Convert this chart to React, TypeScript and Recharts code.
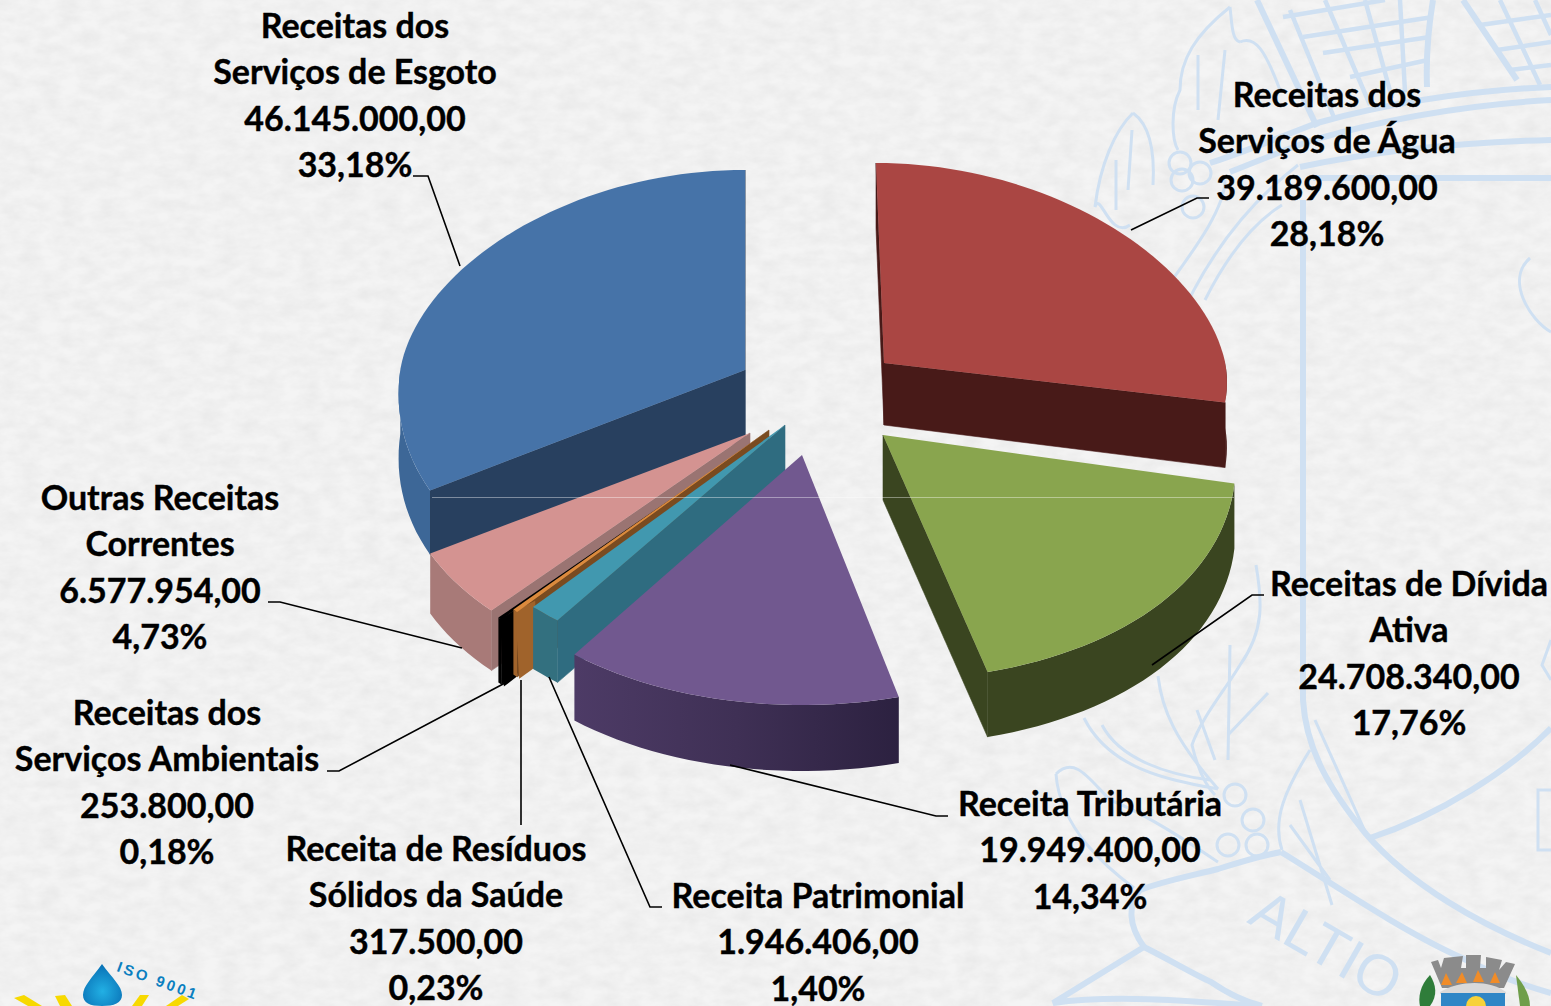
import { PieChart, Pie } from 'recharts';

// drawn counter-clockwise from Água so the front slices paint over the back ones
const categories = [
  'Receitas dos\nServiços de Água',
  'Receitas dos\nServiços de Esgoto',
  'Outras Receitas\nCorrentes',
  'Receitas dos\nServiços Ambientais',
  'Receita de Resíduos\nSólidos da Saúde',
  'Receita Patrimonial',
  'Receita Tributária',
  'Receitas de Dívida\nAtiva',
];
const values = [39189600, 46145000, 6577954, 253800, 317500, 1946406, 19949400, 24708340];
const percents = ['28,18%', '33,18%', '4,73%', '0,18%', '0,23%', '1,40%', '14,34%', '17,76%'];

const data = categories.map((name, i) => ({ name, value: values[i], percent: percents[i] }));
const total = values.reduce((a, b) => a + b, 0);
const START = 90 - (360 * values[0]) / total;

const RADIUS = 350;
const BACK_RY = 200;
const FRONT_RY = 245;
const FONT = 'Lato, sans-serif';
const WATERMARK = '#cfe0f2';

interface Look {
  ax: number;
  ay: number;
  depth: number;
  top: string;
  wall: string;
  face: string;
  lean?: number;
  leanFront?: number;
  scale?: number;
  frontRy?: number;
  rimDepth?: number;
  front?: [number, number];
}

// where each exploded slice sits and how it is coloured
const LOOKS: Look[] = [
  { ax: 884, ay: 363, depth: 62, rimDepth: 65, top: '#aa4643', wall: '#481a18', face: '#481a18', lean: -8, scale: 0.975, frontRy: 200 },
  { ax: 745, ay: 370, depth: 70, rimDepth: 64, top: '#4673a8', wall: '#3d6797', face: '#28405f', scale: 0.985 },
  { ax: 750, ay: 433, depth: 60, top: '#d49391', wall: '#a87a78', face: '#9a7472' },
  { ax: 757, ay: 440, depth: 65, top: '#000000', wall: '#000000', face: '#000000', front: [15, 7] },
  { ax: 769, ay: 430, depth: 65, top: '#db8a3d', wall: '#a0632b', face: '#7a4b20', front: [20, 10] },
  { ax: 785, ay: 425, depth: 62, top: '#4198af', wall: '#33707f', face: '#2f6c80' },
  { ax: 802, ay: 455, depth: 66, top: '#71588f', wall: 'url(#purpleWall)', face: '#3c2e50', frontRy: 250 },
  { ax: 883, ay: 435, depth: 65, top: '#89a54e', wall: '#3a4520', face: '#3a4520', leanFront: 8 },
];

// centre x and centre y of the first line of each label
const LABEL_POS: [number, number][] = [
  [1327, 95],
  [355, 26],
  [160, 498],
  [167, 713],
  [436, 849],
  [818, 896],
  [1090, 804],
  [1409, 584],
];
const LEADERS = [
  '1209,198 1197,198 1131,230',
  '413,176 428,176 460,266',
  '268,602 280,602 462,648',
  '327,771 339,771 505,683',
  '521,825 521,680',
  '662,907 650,907 549,677',
  '948,816 936,816 730,765',
  '1264,595 1252,595 1152,665',
];

const money = (v: number) =>
  v.toLocaleString('pt-BR', { minimumFractionDigits: 2, maximumFractionDigits: 2 });

function project(look: Look, deg: number, r: number) {
  const t = (deg * Math.PI) / 180;
  const c = Math.cos(t);
  const s = Math.sin(t);
  const rx = r * (look.scale ?? 1);
  const fr = look.frontRy ?? FRONT_RY;
  return {
    x:
      look.ax +
      s * rx * (1 - 0.1 * c) +
      (look.lean ?? 0) * Math.max(c, 0) +
      (look.leanFront ?? 0) * Math.max(-c, 0),
    y: look.ay - c * (c > 0 ? BACK_RY : fr) * (r / RADIUS),
  };
}

type Pt = { x: number; y: number };
const toPath = (pts: Pt[]) =>
  'M' + pts.map((p) => `${p.x.toFixed(1)} ${p.y.toFixed(1)}`).join('L') + 'Z';

function Slice3D(props: any) {
  const i = categories.indexOf(props.payload?.name ?? props.name);
  const look = LOOKS[i];
  let from = 90 - props.endAngle;
  let to = 90 - props.startAngle;
  if (from < 0) {
    from += 360;
    to += 360;
  }
  const r = props.outerRadius;
  const arc = (a: number, b: number) => {
    const pts: Pt[] = [];
    const n = Math.max(2, Math.ceil((b - a) / 2));
    for (let k = 0; k <= n; k++) pts.push(project(look, a + ((b - a) * k) / n, r));
    return pts;
  };
  const apex = { x: look.ax, y: look.ay };
  const mid = project(look, (from + to) / 2, r);
  const rimDepth = look.rimDepth ?? look.depth;
  const down = (p: Pt) => ({ x: p.x, y: p.y + rimDepth });

  const faces = [from, to]
    .map((deg) => project(look, deg, r))
    .filter((p) => {
      const dx = p.x - apex.x;
      const dy = p.y - apex.y;
      let nx = dy;
      let ny = -dx;
      if (nx * (mid.x - apex.x) + ny * (mid.y - apex.y) > 0) {
        nx = -nx;
        ny = -ny;
      }
      return ny > 0;
    })
    .map((p) => toPath([apex, p, down(p), { x: apex.x, y: apex.y + look.depth }]));

  const wallFrom = Math.max(from, 90);
  const wallTo = Math.min(to, 270);
  let wall = '';
  if (wallTo > wallFrom) {
    const rim = arc(wallFrom, wallTo);
    wall = toPath([...rim, ...rim.slice().reverse().map(down)]);
  }

  let front = '';
  if (look.front) {
    const p = mid;
    const q = { x: p.x + look.front[0], y: p.y - look.front[1] };
    front = toPath([p, q, { x: q.x + 2, y: q.y + look.depth }, { x: p.x + 4, y: p.y + look.depth + 3 }]);
  }

  return (
    <g>
      {faces.map((d, k) => (
        <path key={k} d={d} fill={look.face} stroke={look.face} strokeWidth={0.6} />
      ))}
      {wall && <path d={wall} fill={look.wall} />}
      {front && <path d={front} fill={look.wall} />}
      <path d={toPath([apex, ...arc(from, to)])} fill={look.top} />
    </g>
  );
}

function SliceLabel(props: any) {
  const i = categories.indexOf(props.payload?.name ?? props.name);
  const [x, y] = LABEL_POS[i];
  const lines = [...categories[i].split('\n'), money(values[i]), percents[i]];
  return (
    <g>
      <polyline points={LEADERS[i]} fill="none" stroke="#000" strokeWidth={1.6} />
      {lines.map((t, k) => (
        <text
          key={k}
          x={x}
          y={y + k * 46.4 + 12}
          textAnchor="middle"
          fontFamily={FONT}
          fontWeight={700}
          fontSize={34}
          stroke="#000"
          strokeWidth={0.4}
          fill="#000"
        >
          {t}
        </text>
      ))}
    </g>
  );
}

function Watermark() {
  const thick = [
    // shield and scrolls
    'M1303 200 L1303 700 C1306 750 1330 790 1366 834 C1410 885 1480 925 1551 953',
    'M1281 852 C1330 882 1400 930 1460 957 C1490 972 1520 985 1551 993',
    'M1370 838 C1440 815 1510 770 1551 728',
    'M1281 852 C1260 856 1240 862 1218 869 C1190 876 1160 882 1140 890 C1128 905 1128 925 1144 947 L1053 1003 C1110 995 1180 1000 1260 1006',
    'M1144 947 C1170 960 1195 975 1211 982 C1230 995 1250 1003 1262 1006',
    // dome and net
    'M1257 0 L1317 127',
    'M1210 163 C1250 150 1285 135 1317 123 C1400 100 1480 90 1551 87',
    'M1230 172 C1260 160 1290 148 1313 140 C1400 115 1480 104 1551 100',
    'M1300 167 C1380 150 1470 142 1551 140',
    'M1313 178 L1551 178',
    'M1433 0 C1428 30 1426 60 1427 87',
    'M1463 0 L1517 80',
  ];
  const medium = [
    'M1283 17 L1385 0 M1303 37 L1433 17 M1323 53 L1430 37 M1350 77 L1428 60',
    'M1290 10 L1335 120 M1325 0 L1370 105 M1365 0 L1392 98 M1400 0 L1405 92',
    'M1480 25 L1551 15 M1497 50 L1551 42 M1510 70 L1551 65',
    'M1500 0 L1540 85 M1535 0 L1551 35',
  ];
  const thin = [
    // upper laurel
    'M1230 7 C1195 35 1180 60 1180 90 C1170 110 1172 140 1178 150 M1230 7 C1232 25 1232 40 1240 42 M1240 42 C1255 35 1265 50 1280 90',
    'M1133 113 C1115 130 1100 165 1095 207 C1100 190 1110 240 1130 225 M1133 113 C1150 125 1155 150 1153 185',
    'M1198 55 L1198 110 M1225 50 L1218 120 M1116 160 L1116 210 M1132 130 L1128 190',
    'M1175 330 C1200 270 1240 210 1298 165 M1205 300 C1225 260 1250 225 1282 205 M1165 290 C1190 255 1225 210 1225 180',
    // lower laurel
    'M1256 565 C1262 600 1265 630 1240 665 C1225 690 1200 720 1192 745 C1198 770 1205 785 1215 795',
    'M1158 676 C1162 710 1175 740 1218 789 M1084 718 C1110 770 1170 780 1218 789 M1102 725 C1120 760 1170 775 1210 780',
    'M1230 645 L1228 760 M1268 693 L1228 735 M1197 710 L1215 760',
    'M1056 774 C1075 755 1090 780 1110 800 C1150 815 1200 850 1218 862 M1056 774 C1060 830 1110 870 1134 888',
    'M1315 720 L1368 838 M1310 750 C1285 790 1272 820 1282 850 M1300 800 L1332 905 M1290 825 L1330 880',
    // right edge
    'M1530 258 C1505 280 1530 320 1551 332 M1551 640 L1542 665 L1551 680 M1551 790 L1538 790 L1538 850 L1551 850',
  ];
  return (
    <g>
      {thick.map((d, i) => (
        <path key={i} d={d} fill="none" stroke={WATERMARK} strokeWidth={6} />
      ))}
      {medium.map((d, i) => (
        <path key={i} d={d} fill="none" stroke={WATERMARK} strokeWidth={4.5} />
      ))}
      {thin.map((d, i) => (
        <path key={i} d={d} fill="none" stroke={WATERMARK} strokeWidth={3} />
      ))}
      {[
        [1180, 163],
        [1182, 180],
        [1200, 173],
        [1193, 207],
        [1235, 795],
        [1253, 820],
        [1228, 845],
        [1257, 845],
      ].map(([x, y], i) => (
        <circle key={i} cx={x} cy={y} r={11} fill="none" stroke={WATERMARK} strokeWidth={3} />
      ))}
      <text
        x={1246}
        y={922}
        transform="rotate(30 1246 922)"
        fontFamily="Liberation Sans, sans-serif"
        fontSize={58}
        fill={WATERMARK}
      >
        ALTIO
      </text>
    </g>
  );
}

function Logos() {
  return (
    <g>
      <path d="M102 964 C112 978 122 986 122 995 C122 1003 114 1006 102 1006 C90 1006 83 1003 83 995 C83 986 92 978 102 964Z" fill="url(#drop)" />
      <text x={116} y={971} transform="rotate(20 116 971)" fontFamily="Liberation Sans, sans-serif" fontWeight={700} fontSize={15} letterSpacing={2.8} fill="#0a7fc0">
        ISO 9001
      </text>
      {['M14 998 L24 995 L42 1006 L28 1006Z', 'M55 996 L65 995 L72 1006 L60 1006Z', 'M140 995 L149 995 L142 1006 L132 1006Z', 'M182 995 L189 999 L178 1006 L166 1006Z'].map((d, i) => (
        <path key={i} d={d} fill="#f7d900" />
      ))}
      <path d="M1431 962 L1438 960 L1441 968 L1444 958 L1463 956 L1461 968 L1466 968 L1466 955 L1481 955 L1480 968 L1486 968 L1486 957 L1502 960 L1499 970 L1506 962 L1515 964 L1504 988 L1442 988Z" fill="#8b8b8b" />
      {['M1441 985 L1446 973 L1452 985Z', 'M1456 983 L1462 972 L1467 983Z', 'M1473 982 L1478 970 L1484 982Z', 'M1490 983 L1495 972 L1500 983Z'].map((d, i) => (
        <path key={i} d={d} fill="#f08c28" />
      ))}
      <path d="M1440 992 C1460 980 1490 980 1506 992 L1506 994 L1440 994Z" fill="#d9d9d9" />
      <rect x={1441} y={993} width={64} height={13} fill="#2f86c6" />
      <circle cx={1476} cy={1006} r={10} fill="#f7d23a" />
      <path d="M1430 975 C1420 985 1418 998 1420 1006 L1430 1006 C1438 995 1436 985 1430 975Z" fill="#2f7d3a" />
      <path d="M1516 975 L1520 1006 L1530 1006 C1530 995 1524 985 1516 975Z" fill="#6f9e4a" />
    </g>
  );
}

export default function App() {
  return (
    <div style={{ position: 'absolute', left: 0, top: 0, width: 1551, height: 1006, overflow: 'hidden', background: '#f4f4f4' }}>
      <svg width={1551} height={1006} style={{ position: 'absolute', left: 0, top: 0 }}>
        <defs>
          <filter id="paper" x="0" y="0" width="100%" height="100%">
            <feTurbulence type="fractalNoise" baseFrequency="0.05 0.09" numOctaves={4} seed={4} />
            <feColorMatrix values="0 0 0 0 0.6  0 0 0 0 0.6  0 0 0 0 0.6  0.38 0 0 0 -0.1" />
          </filter>
          <linearGradient id="purpleWall" x1="0" y1="0" x2="1" y2="0">
            <stop offset="0" stopColor="#4d3b66" />
            <stop offset="0.5" stopColor="#3f3055" />
            <stop offset="1" stopColor="#2c2140" />
          </linearGradient>
          <radialGradient id="drop" cx="0.5" cy="0.65" r="0.6">
            <stop offset="0" stopColor="#22b0e4" />
            <stop offset="1" stopColor="#0a74b8" />
          </radialGradient>
        </defs>
        <rect width={1551} height={1006} filter="url(#paper)" />
        <Watermark />
      </svg>
      <div style={{ position: 'absolute', left: 0, top: 0 }}>
        <PieChart width={1551} height={1006} margin={{ top: 0, right: 0, bottom: 0, left: 0 }}>
          <Pie
            data={data}
            dataKey="value"
            nameKey="name"
            cx={815}
            cy={430}
            innerRadius={0}
            outerRadius={RADIUS}
            startAngle={START}
            endAngle={START + 360}
            stroke="none"
            shape={Slice3D}
            label={SliceLabel}
            labelLine={false}
            isAnimationActive={false}
          />
        </PieChart>
      </div>
      <svg width={1551} height={1006} style={{ position: 'absolute', left: 0, top: 0, pointerEvents: 'none' }}>
        <line x1={432} x2={1234} y1={497.5} y2={497.5} stroke="#ffffff" strokeOpacity={0.4} strokeWidth={1} />
        <Logos />
      </svg>
    </div>
  );
}
